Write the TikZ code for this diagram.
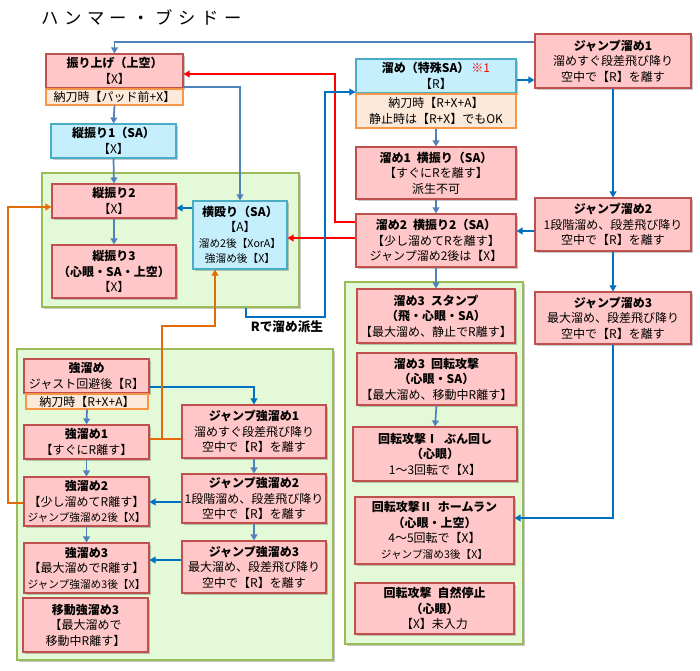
\documentclass[tikz,border=0pt]{standalone}
\usepackage{fontspec}
\setmainfont{Noto Sans CJK JP}
\usetikzlibrary{arrows.meta,shadows}
\definecolor{pinkF}{HTML}{FFC7C7}
\definecolor{pinkD}{HTML}{C0504D}
\definecolor{blueF}{HTML}{C6EFFD}
\definecolor{blueD}{HTML}{4BACC6}
\definecolor{subF}{HTML}{FDE9D9}
\definecolor{subD}{HTML}{F79646}
\definecolor{grnF}{HTML}{E4F9D7}
\definecolor{grnD}{HTML}{9BBB59}
\definecolor{blueA}{HTML}{4F81BD}
\definecolor{blueB}{HTML}{0070C0}
\definecolor{redC}{HTML}{FF0000}
\definecolor{orC}{HTML}{E36C09}
\newcommand\smf{\fontsize{8pt}{10pt}\selectfont}
\newcommand\mybox[7]{\node[#1, minimum width={(#5-#3)*0.75pt}, minimum height={(#6-#4)*0.75pt}] (#2) at ({(#3+#5)/2},{(#4+#6)/2}) {#7};}
\tikzset{
  bxbase/.style={draw, line width=0.8pt, align=center, inner sep=1pt, font=\fontsize{9pt}{11.6pt}\selectfont},
  shad/.style={drop shadow={shadow xshift=1.2pt, shadow yshift=-1.2pt, opacity=0.22, fill=black}},
  pinkb/.style={bxbase, fill=pinkF, draw=pinkD, shad},
  blueb/.style={bxbase, fill=blueF, draw=blueD, shad},
  subb/.style={bxbase, fill=subF, draw=subD},
  grp/.style={draw=grnD, fill=grnF, line width=0.8pt, shad},
  tip/.style={-{Triangle[width=5pt,length=4.5pt]}},
  c1/.style={draw=blueA, line width=1.3pt, tip},
  c2/.style={draw=blueB, line width=1.6pt, tip},
  cr/.style={draw=redC, line width=1.6pt, tip},
  co/.style={draw=orC, line width=1.6pt, tip},
  co0/.style={draw=orC, line width=1.6pt},
  lbl/.style={font=\fontsize{9.5pt}{11pt}\selectfont\bfseries, inner sep=0pt},
}
\begin{document}
\begin{tikzpicture}[x=0.75pt,y=-0.75pt]
\fill[white] (0,0) rectangle (700,671);
\useasboundingbox (0,0) rectangle (700,671);
% title
\node[anchor=west, inner sep=0pt, font=\fontsize{13pt}{15pt}\selectfont\addfontfeature{LetterSpace=32}] (title) at (41,17) {ハンマー・ブシドー};
% groups
\mybox{grp}{g1}{42}{173}{299}{307}{}
\mybox{grp}{g2}{17}{349}{333}{660}{}
\mybox{grp}{g3}{345}{282}{523}{644}{}
% top-left
\mybox{pinkb}{furi}{46}{54}{183}{88}{\textbf{振り上げ（上空）}\\【X】}
\mybox{subb}{furisub}{46}{89}{183}{105}{納刀時【パッド前+X】}
\mybox{blueb}{tate1}{51}{124}{176}{158}{\textbf{縦振り1（SA）}\\【X】}
\mybox{pinkb}{tate2}{52}{184}{176}{218}{\textbf{縦振り2}\\【X】}
\mybox{pinkb}{tate3}{52}{245}{176}{298}{\textbf{縦振り3}\\\textbf{（心眼・SA・上空）}\\【X】}
\mybox{blueb}{yoko}{193}{201}{287}{269}{\textbf{横殴り（SA）}\\【A】\\{\smf 溜め2後【XorA】}\\{\smf 強溜め後【X】}}
% right column
\mybox{blueb}{tame}{356}{59}{516}{93}{\textbf{溜め（特殊SA）}\,{\color{redC}※1}\\【R】}
\mybox{subb}{tamesub}{356}{94}{516}{128}{納刀時【R+X+A】\\静止時は【R+X】でもOK}
\mybox{pinkb}{t1}{356}{147}{516}{199}{\textbf{溜め1\enspace 横振り（SA）}\\【すぐにRを離す】\\派生不可}
\mybox{pinkb}{t2}{356}{214}{516}{267}{\textbf{溜め2\enspace 横振り2（SA）}\\【少し溜めてRを離す】\\ジャンプ溜め2後は【X】}
\mybox{pinkb}{t3}{357}{289}{515}{343}{\textbf{溜め3\enspace スタンプ}\\\textbf{（飛・心眼・SA）}\\【最大溜め、静止でR離す】}
\mybox{pinkb}{t4}{357}{353}{516}{405}{\textbf{溜め3\enspace 回転攻撃}\\\textbf{（心眼・SA）}\\【最大溜め、移動中R離す】}
\mybox{pinkb}{k1}{353}{427}{517}{481}{\textbf{回転攻撃Ⅰ\enspace ぶん回し}\\\textbf{（心眼）}\\1～3回転で【X】}
\mybox{pinkb}{k2}{355}{497}{514}{564}{\textbf{回転攻撃Ⅱ\enspace ホームラン}\\\textbf{（心眼・上空）}\\4～5回転で【X】\\{\smf ジャンプ溜め3後【X】}}
\mybox{pinkb}{k3}{355}{583}{514}{634}{\textbf{回転攻撃\enspace 自然停止}\\\textbf{（心眼）}\\【X】未入力}
\mybox{pinkb}{j1}{535}{34}{691}{88}{\textbf{ジャンプ溜め1}\\溜めすぐ段差飛び降り\\空中で【R】を離す}
\mybox{pinkb}{j2}{535}{198}{691}{251}{\textbf{ジャンプ溜め2}\\1段階溜め、段差飛び降り\\空中で【R】を離す}
\mybox{pinkb}{j3}{535}{292}{691}{344}{\textbf{ジャンプ溜め3}\\最大溜め、段差飛び降り\\空中で【R】を離す}
% bottom-left
\mybox{pinkb}{ka}{24}{359}{149}{393}{\textbf{強溜め}\\ジャスト回避後【R】}
\mybox{subb}{kasub}{26}{394}{148}{409}{納刀時【R+X+A】}
\mybox{pinkb}{ka1}{24}{425}{149}{459}{\textbf{強溜め1}\\【すぐにR離す】}
\mybox{pinkb}{ka2}{24}{477}{149}{526}{\textbf{強溜め2}\\【少し溜めてR離す】\\{\smf ジャンプ強溜め2後【X】}}
\mybox{pinkb}{ka3}{24}{543}{149}{593}{\textbf{強溜め3}\\【最大溜めでR離す】\\{\smf ジャンプ強溜め3後【X】}}
\mybox{pinkb}{ka4}{23}{598}{148}{652}{\textbf{移動強溜め3}\\【最大溜めで\\移動中R離す】}
\mybox{pinkb}{kj1}{182}{405}{326}{458}{\textbf{ジャンプ強溜め1}\\溜めすぐ段差飛び降り\\空中で【R】を離す}
\mybox{pinkb}{kj2}{182}{474}{326}{523}{\textbf{ジャンプ強溜め2}\\1段階溜め、段差飛び降り\\空中で【R】を離す}
\mybox{pinkb}{kj3}{182}{541}{326}{593}{\textbf{ジャンプ強溜め3}\\最大溜め、段差飛び降り\\空中で【R】を離す}
% connectors top-left
\draw[c1] (furisub.south) -- (tate1.north);
\draw[c1] (tate1.south) -- (tate2.north);
\draw[c1] (tate2.south) -- (tate3.north);
\draw[c2] (yoko.west|-0,208) -- (tate2.east|-0,208);
\draw[c1] (j1.west|-0,42) -| (furi.north);
\draw[c1] (furi.east|-0,87) -| (yoko.north);
\draw[cr] (t2.west|-0,222) -| (335,74) -- (furi.east|-0,74);
\draw[cr] (t2.west|-0,238) -- (yoko.east|-0,238);
\draw[c2] (g1.south-|246,0) -- (246,317) -| (325,92) -- (tame.west|-0,92);
\node[lbl] (rlab) at (287,327) {Rで溜め派生};
% right
\draw[c2] (tame.east|-0,80) -- (j1.west|-0,80);
\draw[c1] (tamesub.south) -- (t1.north);
\draw[c1] (t1.south) -- (t2.north);
\draw[c1] (t2.south) -- (t3.north);
\draw[c1] (t4.south) -- (k1.north);
\draw[c2] (j1.south) -- (j2.north);
\draw[c2] (j2.south) -- (j3.north);
\draw[c2] (j2.west|-0,231) -- (t2.east|-0,231);
\draw[c2] (j3.south) |- (k2.east|-0,518);
% bottom-left
\draw[c1] (kasub.south) -- (ka1.north);
\draw[c1] (ka1.south) -- (ka2.north);
\draw[c1] (ka2.south) -- (ka3.north);
\draw[c2] (ka.east|-0,387) -| (kj1.north);
\draw[c1] (kj1.south) -- (kj2.north);
\draw[c1] (kj2.south) -- (kj3.north);
\draw[c2] (kj2.west|-0,502) -- (ka2.east|-0,502);
\draw[c2] (kj3.west|-0,560) -- (ka3.east|-0,560);
\draw[co0] (ka1.east|-0,439) -- (kj1.west|-0,439);
\coordinate (oj) at (162,439);
\draw[co] (oj) |- (215,326) -- (yoko.south-|215,0);
\draw[co] (ka2.west|-0,503) -- (8,503) |- (tate2.west|-0,207);
\end{tikzpicture}
\end{document}
